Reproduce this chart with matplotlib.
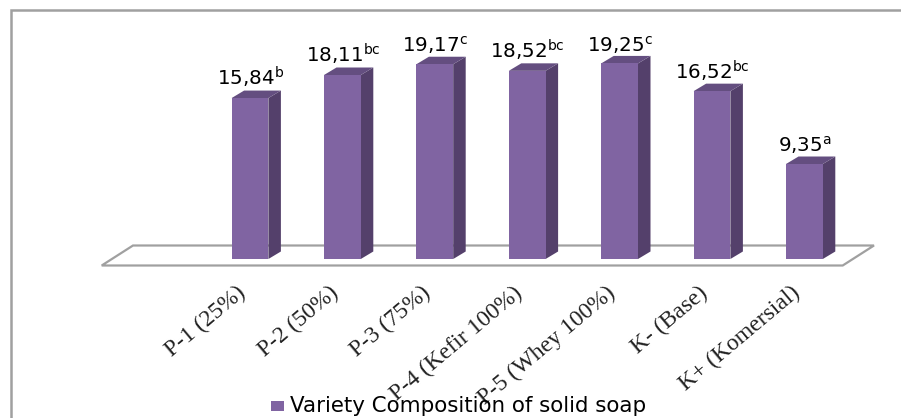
import matplotlib
matplotlib.use('Agg')
import matplotlib.pyplot as plt
from matplotlib.patches import Polygon, Rectangle

# data
categories = ['P-1 (25%)', 'P-2 (50%)', 'P-3 (75%)', 'P-4 (Kefir 100%)',
              'P-5 (Whey 100%)', 'K- (Base)', 'K+ (Komersial)']
values = [15.84, 18.11, 19.17, 18.52, 19.25, 16.52, 9.35]
value_text = ['15,84', '18,11', '19,17', '18,52', '19,25', '16,52', '9,35']
letters = ['b', 'bc', 'c', 'bc', 'c', 'bc', 'a']
series_name = 'Variety Composition of solid soap'

W, H = 901, 418
X0, STEP = 250.0, 92.4   # pixel x of first bar centre, pixels per category
Y0, UNIT = 259.0, 10.16  # pixel y of the baseline, pixels per value unit
BAR_W = 36.8 / STEP
DX = 12.5 / STEP
DY = 7.5 / UNIT

FRONT = '#8064A2'
SIDE = '#54406B'
TOP = '#644E80'
GREY = '#A0A0A0'

plt.rcParams['mathtext.default'] = 'regular'

fig = plt.figure(figsize=(W / 100, H / 100), dpi=100)
ax = fig.add_axes([0, 0, 1, 1])
ax.set_xlim(-X0 / STEP, (W - X0) / STEP)
ax.set_ylim((Y0 - H) / UNIT, Y0 / UNIT)
ax.axis('off')

# outer chart border
fig.add_artist(Rectangle((11 / W, -0.02), 2000 / W, 1 - 10 / H + 0.02,
                         transform=fig.transFigure, fill=False,
                         edgecolor=GREY, linewidth=1.8))


def px(x, y):
    return (x - X0) / STEP, (Y0 - y) / UNIT


# floor of the 3d box
floor = [px(101.7, 265.5), px(842.7, 265.5), px(874, 245.5), px(133, 245.5)]
ax.add_patch(Polygon(floor, closed=True, facecolor='white', edgecolor=GREY,
                     linewidth=1.6, zorder=1))

for i, v in enumerate(values):
    l = i - BAR_W / 2
    r = i + BAR_W / 2
    ax.add_patch(Polygon([(r, 0), (r + DX, DY), (r + DX, v + DY), (r, v)],
                         facecolor=SIDE, edgecolor='none', zorder=3))
    ax.add_patch(Polygon([(l, v), (r, v), (r + DX, v + DY), (l + DX, v + DY)],
                         facecolor=TOP, edgecolor='none', zorder=3))
    ax.add_patch(Rectangle((l, 0), BAR_W, v, facecolor=FRONT, edgecolor='none',
                           zorder=4))
    ax.text(i + 0.005, v + DY + 0.45, value_text[i] + '$^{' + letters[i] + '}$',
            ha='center', va='baseline', fontsize=14.3, color='black',
            family='DejaVu Sans', zorder=5)

# rotated category labels
for i, name in enumerate(categories):
    ax.text(i - 0.15, -2.3, name, rotation=40, rotation_mode='anchor', ha='right',
            va='top', fontsize=17, family='Liberation Serif', color='#222222',
            zorder=5)

# legend
ax.add_patch(Rectangle(px(271, 411), 13 / STEP, 10.5 / UNIT, facecolor=FRONT,
                       edgecolor='none', zorder=5))
x_leg, y_leg = px(290, 412.5)
ax.text(x_leg, y_leg, series_name, ha='left', va='baseline', fontsize=15.4,
        family='DejaVu Sans', color='black', zorder=6)

fig.savefig('out.png', dpi=100)
